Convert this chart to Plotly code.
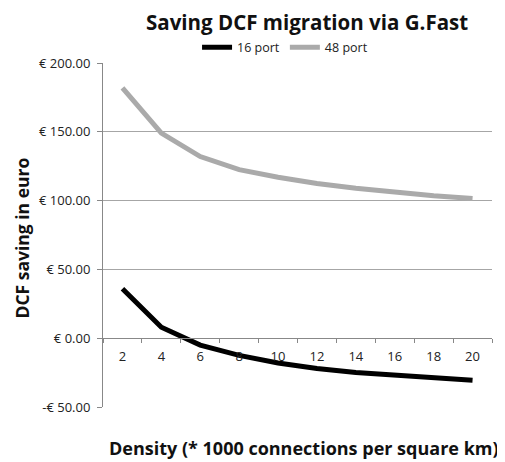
import plotly.graph_objects as go

density = [2, 4, 6, 8, 10, 12, 14, 16, 18, 20]
port16 = [36, 8, -5, -12.5, -18, -22, -25, -27, -28.5, -30.5]
port48 = [182, 149, 132, 122.5, 117, 112.5, 109, 106, 103.5, 101.5]
ytick_vals = [-50, 0, 50, 100, 150, 200]
ytick_text = ["-€ 50.00", "€ 0.00", "€ 50.00", "€ 100.00", "€ 150.00", "€ 200.00"]

fig = go.Figure()
fig.add_trace(go.Scatter(x=density, y=port16, mode="lines", name="16 port",
                         line=dict(color="#000000", width=5)))
fig.add_trace(go.Scatter(x=density, y=port48, mode="lines", name="48 port",
                         line=dict(color="#aaaaaa", width=5)))

FONT = "Open Sans"
# page body has an 8px default margin, so the figure is 8px smaller and shifted
fig.update_layout(
    width=497, height=454,
    margin=dict(l=95, r=13, t=55, b=55),
    paper_bgcolor="white", plot_bgcolor="white",
    font=dict(family=FONT, color="#222222", size=12),
    showlegend=True,
    legend=dict(orientation="h", x=0.468, xanchor="center",
                y=1 + (62.5 - 47) / 344, yanchor="middle",
                font=dict(size=12.5, color="#222222"), bgcolor="rgba(0,0,0,0)",
                itemwidth=30, tracegroupgap=0, borderwidth=0),
    xaxis=dict(range=[1, 21], anchor="free", position=0.2,
               tickvals=density, ticktext=[str(d) for d in density],
               ticks="", showgrid=False, zeroline=False,
               showline=True, linecolor="#888888", linewidth=1,
               tickfont=dict(size=13, color="#222222"), ticklabelstandoff=6,
               minor=dict(tick0=1, dtick=2, ticks="outside", ticklen=4,
                          tickcolor="#888888", showgrid=False)),
    yaxis=dict(range=[-50, 200], tickvals=ytick_vals, ticktext=ytick_text,
               ticks="outside", ticklen=5, tickcolor="#888888",
               showline=True, linecolor="#888888", linewidth=1,
               showgrid=True, gridcolor="#a6a6a6", gridwidth=1,
               zeroline=False, tickfont=dict(size=13, color="#222222"),
               ticklabelstandoff=4),
    annotations=[
        dict(text="<b>Saving DCF migration via G.Fast</b>", xref="paper", yref="paper",
             x=0.524, y=1 + (62.5 - 22) / 344, xanchor="center", yanchor="middle",
             showarrow=False, borderpad=0,
             font=dict(size=20.5, family=FONT, color="#111111")),
        dict(text="<b>Density (* 1000 connections per square km)</b>", xref="paper", yref="paper",
             x=(304 - 103) / 389, y=-(448 - 406.7) / 344, xanchor="center", yanchor="middle",
             showarrow=False, font=dict(size=18, family=FONT, color="#111111")),
        dict(text="<b>DCF saving in euro</b>", xref="paper", yref="paper",
             x=-(103 - 21) / 389, y=1 - (238 - 62.5) / 344, xanchor="center", yanchor="middle",
             textangle=-90, showarrow=False, borderpad=0,
             font=dict(size=17.5, family=FONT, color="#111111")),
    ],
)

fig.write_html("out.html")
